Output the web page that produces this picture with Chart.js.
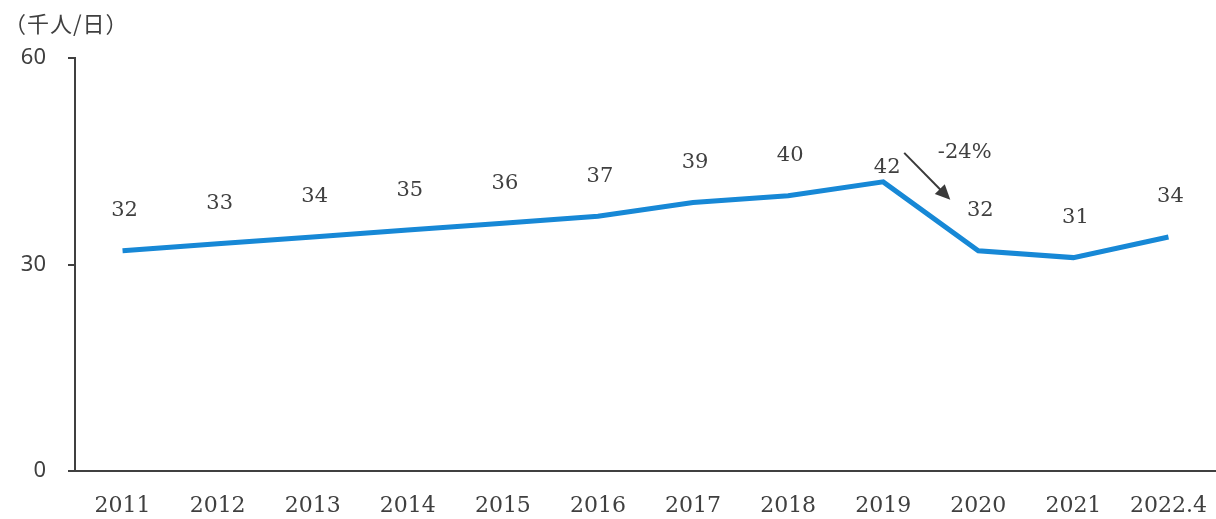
<!DOCTYPE html>
<html>
<head>
<meta charset="utf-8">
<script src="https://cdn.jsdelivr.net/npm/chart.js@4/dist/chart.umd.min.js"></script>
<style>
  html, body { margin: 0; padding: 0; background: #fff; }
  #wrap { position: relative; width: 1216px; height: 519px; overflow: hidden; }
  #unit { position: absolute; left: 4px; top: 6px; font: 22px "Noto Sans CJK JP", sans-serif; color: #404040; letter-spacing: 1px; }
</style>
</head>
<body>
<div id="wrap">
  <div id="unit">（千人/日）</div>
  <canvas id="visitorChart" width="1216" height="519"></canvas>
</div>
<script>
// daily visitors, thousands of people per day
const years = ['2011', '2012', '2013', '2014', '2015', '2016', '2017', '2018', '2019', '2020', '2021', '2022.4'];
const visitors = [32, 33, 34, 35, 36, 37, 39, 40, 42, 32, 31, 34];
const yTicks = [0, 30, 60];
const dropText = '-24%';

const textColor = '#404040';
const serifFont = '"DejaVu Serif", serif';

// value labels over each point
const valueLabels = {
  id: 'valueLabels',
  afterDatasetsDraw(chart) {
    const { ctx } = chart;
    const meta = chart.getDatasetMeta(0);
    ctx.save();
    ctx.font = '21px ' + serifFont;
    ctx.fillStyle = textColor;
    ctx.textAlign = 'center';
    ctx.textBaseline = 'middle';
    meta.data.forEach((pt, i) => {
      let dx = 2, dy = -40;
      if (i === 8) { dx = 4; dy = -14; }
      ctx.fillText(String(visitors[i]), pt.x + dx, pt.y + dy);
    });
    ctx.restore();
  }
};

// arrow and percent for the 2019 -> 2020 drop
const dropArrow = {
  id: 'dropArrow',
  afterDatasetsDraw(chart) {
    const { ctx } = chart;
    const meta = chart.getDatasetMeta(0);
    const a = meta.data[8], b = meta.data[9];
    const x1 = a.x + 21, y1 = a.y - 29;
    const x2 = b.x - 28, y2 = b.y - 51;
    ctx.save();
    ctx.strokeStyle = '#3a3a3a';
    ctx.fillStyle = '#3a3a3a';
    ctx.lineWidth = 2;
    const ang = Math.atan2(y2 - y1, x2 - x1);
    const len = 15, w = 7;
    ctx.beginPath();
    ctx.moveTo(x1, y1);
    ctx.lineTo(x2 - 8 * Math.cos(ang), y2 - 8 * Math.sin(ang));
    ctx.stroke();
    ctx.beginPath();
    ctx.moveTo(x2, y2);
    ctx.lineTo(x2 - len * Math.cos(ang) + w * Math.sin(ang), y2 - len * Math.sin(ang) - w * Math.cos(ang));
    ctx.lineTo(x2 - len * Math.cos(ang) - w * Math.sin(ang), y2 - len * Math.sin(ang) + w * Math.cos(ang));
    ctx.closePath();
    ctx.fill();
    ctx.font = '21px ' + serifFont;
    ctx.fillStyle = textColor;
    ctx.textAlign = 'center';
    ctx.textBaseline = 'middle';
    ctx.fillText(dropText, (a.x + b.x) / 2 + 34, a.y - 29);
    ctx.restore();
  }
};

const ctx = document.getElementById('visitorChart').getContext('2d');
const chart = new Chart(ctx, {
  type: 'line',
  data: {
    labels: years,
    datasets: [{
      data: visitors,
      borderColor: '#1788d6',
      borderWidth: 5,
      pointRadius: 0,
      tension: 0,
      borderJoinStyle: 'miter'
    }]
  },
  options: {
    responsive: false,
    animation: false,
    layout: { padding: { top: 58, right: -12, bottom: 0, left: 0 } },
    plugins: {
      legend: { display: false },
      tooltip: { enabled: false }
    },
    scales: {
      x: {
        offset: true,
        grid: { display: true, drawOnChartArea: false, drawTicks: false },
        border: { display: true, color: '#404040', width: 2 },
        ticks: {
          color: textColor,
          font: { family: serifFont, size: 22 },
          padding: 22,
          maxRotation: 0
        },
        afterFit(scale) {
          scale.height = 48;
          scale.paddingLeft = 0;
          scale.paddingRight = 0;
        }
      },
      y: {
        min: 0,
        max: 60,
        afterBuildTicks(scale) { scale.ticks = yTicks.map(v => ({ value: v })); },
        grid: { drawOnChartArea: false, drawTicks: true, tickLength: 7, color: '#404040', lineWidth: 2 },
        border: { display: true, color: '#404040', width: 2 },
        ticks: {
          color: textColor,
          font: { family: '"Noto Sans", sans-serif', size: 22 },
          padding: 22
        },
        afterFit(scale) { scale.width = 75; }
      }
    }
  },
  plugins: [valueLabels, dropArrow]
});
</script>
</body>
</html>
